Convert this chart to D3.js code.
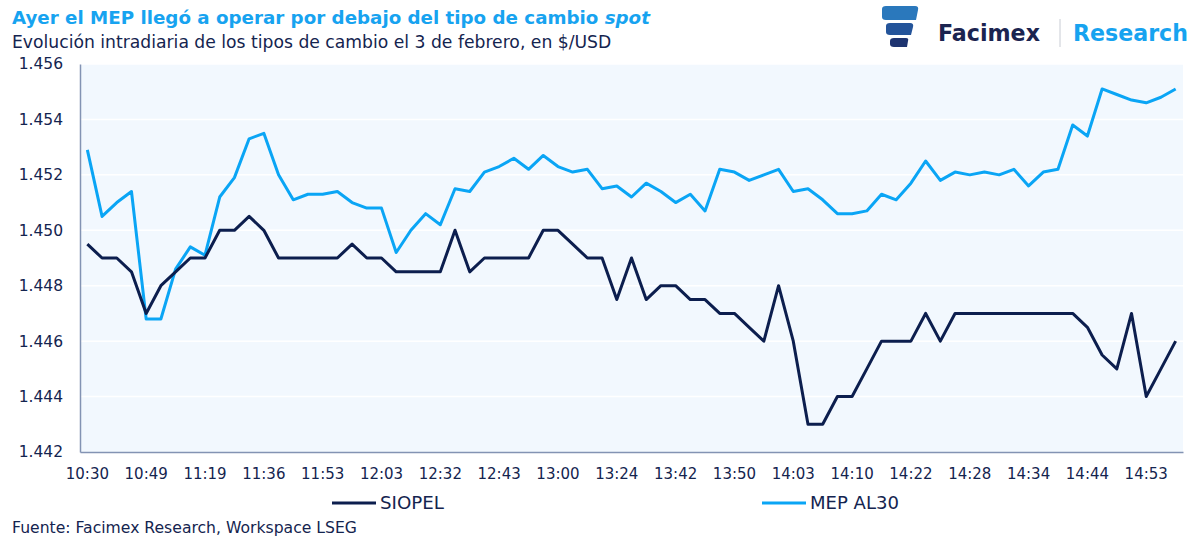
<!DOCTYPE html>
<html>
<head>
<meta charset="utf-8">
<script src="https://cdn.jsdelivr.net/npm/d3@7/dist/d3.min.js"></script>
<style>
  body { margin: 0; background: #fff; }
  svg { display: block; }
</style>
</head>
<body>
<svg id="chart" width="1200" height="547"></svg>
<script>
// ---- Data ----
const tickLabels = ["10:30","10:49","11:19","11:36","11:53","12:03","12:32","12:43","13:00","13:24",
  "13:42","13:50","14:03","14:10","14:22","14:28","14:34","14:44","14:53"];
const tickEvery = 4;

const siopel = [
  1.4495,1.4490,1.4490,1.4485,1.4470,1.4480,1.4485,1.4490,1.4490,1.4500,
  1.4500,1.4505,1.4500,1.4490,1.4490,1.4490,1.4490,1.4490,1.4495,1.4490,
  1.4490,1.4485,1.4485,1.4485,1.4485,1.4500,1.4485,1.4490,1.4490,1.4490,
  1.4490,1.4500,1.4500,1.4495,1.4490,1.4490,1.4475,1.4490,1.4475,1.4480,
  1.4480,1.4475,1.4475,1.4470,1.4470,1.4465,1.4460,1.4480,1.4460,1.4430,
  1.4430,1.4440,1.4440,1.4450,1.4460,1.4460,1.4460,1.4470,1.4460,1.4470,
  1.4470,1.4470,1.4470,1.4470,1.4470,1.4470,1.4470,1.4470,1.4465,1.4455,
  1.4450,1.4470,1.4440,1.4450,1.4460
];
const mepAL30 = [
  1.4529,1.4505,1.4510,1.4514,1.4468,1.4468,1.4486,1.4494,1.4491,1.4512,
  1.4519,1.4533,1.4535,1.4520,1.4511,1.4513,1.4513,1.4514,1.4510,1.4508,
  1.4508,1.4492,1.4500,1.4506,1.4502,1.4515,1.4514,1.4521,1.4523,1.4526,
  1.4522,1.4527,1.4523,1.4521,1.4522,1.4515,1.4516,1.4512,1.4517,1.4514,
  1.4510,1.4513,1.4507,1.4522,1.4521,1.4518,1.4520,1.4522,1.4514,1.4515,
  1.4511,1.4506,1.4506,1.4507,1.4513,1.4511,1.4517,1.4525,1.4518,1.4521,
  1.4520,1.4521,1.4520,1.4522,1.4516,1.4521,1.4522,1.4538,1.4534,1.4551,
  1.4549,1.4547,1.4546,1.4548,1.4551
];
const yTicks = [1.442,1.444,1.446,1.448,1.450,1.452,1.454,1.456];
const seriesNames = ["SIOPEL","MEP AL30"];

// ---- Layout ----
const svg = d3.select("#chart");
const plot = {left: 80, right: 1183, top: 64, bottom: 452};
const navy = "#0C1E4E";
const sky = "#0AA5F5";
const textColor = "#14244F";
const FONT = "'DejaVu Sans', 'Noto Sans', sans-serif";

// fit a text element to a target width by adjusting its font size
function fit(sel, width) {
  const node = sel.node();
  const w = node.getComputedTextLength();
  const fs = parseFloat(sel.style("font-size"));
  sel.style("font-size", (fs * width / w).toFixed(2) + "px");
  return sel;
}

const n = siopel.length;
const idx = d3.range(n);
const x = d3.scaleBand().domain(idx).range([plot.left, plot.right]);
const cx = i => x(i) + x.bandwidth() / 2;
const y = d3.scaleLinear().domain([1.442, 1.456]).range([plot.bottom, plot.top]);

// Plot background
svg.append("rect")
  .attr("x", plot.left).attr("y", plot.top)
  .attr("width", plot.right - plot.left).attr("height", plot.bottom - plot.top)
  .attr("fill", "#F2F8FE");

// Gridlines
svg.append("g").selectAll("line").data(yTicks.slice(1)).join("line")
  .attr("x1", plot.left).attr("x2", plot.right)
  .attr("y1", d => y(d)).attr("y2", d => y(d))
  .attr("stroke", "#FFFFFF").attr("stroke-width", 1.5);

// Y axis
const yAxis = d3.axisLeft(y).tickValues(yTicks).tickSize(0).tickPadding(17)
  .tickFormat(d => d3.format(".3f")(d));
const gy = svg.append("g").attr("transform", `translate(${plot.left},0)`).call(yAxis);
gy.select(".domain").attr("stroke", "#8393B3").attr("stroke-width", 1.5);
gy.selectAll("text").attr("fill", textColor)
  .style("font-family", FONT).style("font-size", "15.5px");

// X axis
const xAxis = d3.axisBottom(x)
  .tickValues(idx.filter(i => i % tickEvery === 0))
  .tickFormat(i => tickLabels[i / tickEvery])
  .tickSize(0).tickPadding(16);
const gx = svg.append("g").attr("transform", `translate(0,${plot.bottom})`).call(xAxis);
gx.select(".domain").attr("stroke", "#8393B3").attr("stroke-width", 1.5);
gx.selectAll("text").attr("fill", textColor)
  .style("font-family", FONT).style("font-size", "15px");

// Lines
const line = d3.line().x((d, i) => cx(i)).y(d => y(d));
svg.append("path").datum(mepAL30).attr("d", line)
  .attr("fill", "none").attr("stroke", sky).attr("stroke-width", 3).attr("stroke-linejoin", "round");
svg.append("path").datum(siopel).attr("d", line)
  .attr("fill", "none").attr("stroke", navy).attr("stroke-width", 3).attr("stroke-linejoin", "round");

// Legend
const legend = [
  {name: seriesNames[0], color: navy, x: 332, w: 64},
  {name: seriesNames[1], color: sky, x: 762, w: 89}
];
const lg = svg.append("g").selectAll("g").data(legend).join("g")
  .attr("transform", d => `translate(${d.x},503)`);
lg.append("line").attr("x1", 0).attr("x2", 44).attr("y1", 0).attr("y2", 0)
  .attr("stroke", d => d.color).attr("stroke-width", 3);
lg.append("text").attr("x", 48).attr("y", 6).text(d => d.name)
  .attr("fill", textColor).style("font-family", FONT).style("font-size", "15px")
  .each(function(d) { fit(d3.select(this), d.w); });

// Titles
const title = svg.append("text").attr("x", 12).attr("y", 24)
  .attr("fill", "#17A3F0")
  .style("font-family", FONT).style("font-size", "19px").style("font-weight", "bold")
  .call(t => {
    t.append("tspan").text("Ayer el MEP llegó a operar por debajo del tipo de cambio ");
    t.append("tspan").attr("font-style", "italic").text("spot");
  });
fit(title, 638);
const sub = svg.append("text").attr("x", 12).attr("y", 48)
  .attr("fill", textColor)
  .style("font-family", FONT).style("font-size", "16px")
  .text("Evolución intradiaria de los tipos de cambio el 3 de febrero, en $/USD");
fit(sub, 600);

// Footer
const foot = svg.append("text").attr("x", 12).attr("y", 533)
  .attr("fill", textColor)
  .style("font-family", FONT).style("font-size", "14px")
  .text("Fuente: Facimex Research, Workspace LSEG");
fit(foot, 345);

// Logo
const logo = svg.append("g");
logo.append("path").attr("d", "M882,9 Q882,6 886,6 L915,6 Q919,6 918,10 L916,20 L886,20 Q882,20 882,17 Z").attr("fill", "#2A78BC");
logo.append("path").attr("d", "M886,26 Q886,23 890,23 L910,23 Q914,23 913,27 L911,35 L890,35 Q886,35 886,32 Z").attr("fill", "#24549A");
logo.append("path").attr("d", "M890,41 Q890,38 894,38 L906,38 Q909,38 908,41 L907,47 L894,47 Q890,47 890,44 Z").attr("fill", "#1E3470");
const fx = logo.append("text").attr("x", 938).attr("y", 41).text("Facimex")
  .attr("fill", "#1B2450").style("font-family", FONT)
  .style("font-size", "23px").style("font-weight", "bold");
fit(fx, 102);
logo.append("line").attr("x1", 1060).attr("x2", 1060).attr("y1", 19).attr("y2", 47)
  .attr("stroke", "#C8CCD4").attr("stroke-width", 1);
const rs = logo.append("text").attr("x", 1073).attr("y", 41).text("Research")
  .attr("fill", "#17A3F0").style("font-family", FONT)
  .style("font-size", "23px").style("font-weight", "bold");
fit(rs, 115);
</script>
</body>
</html>
